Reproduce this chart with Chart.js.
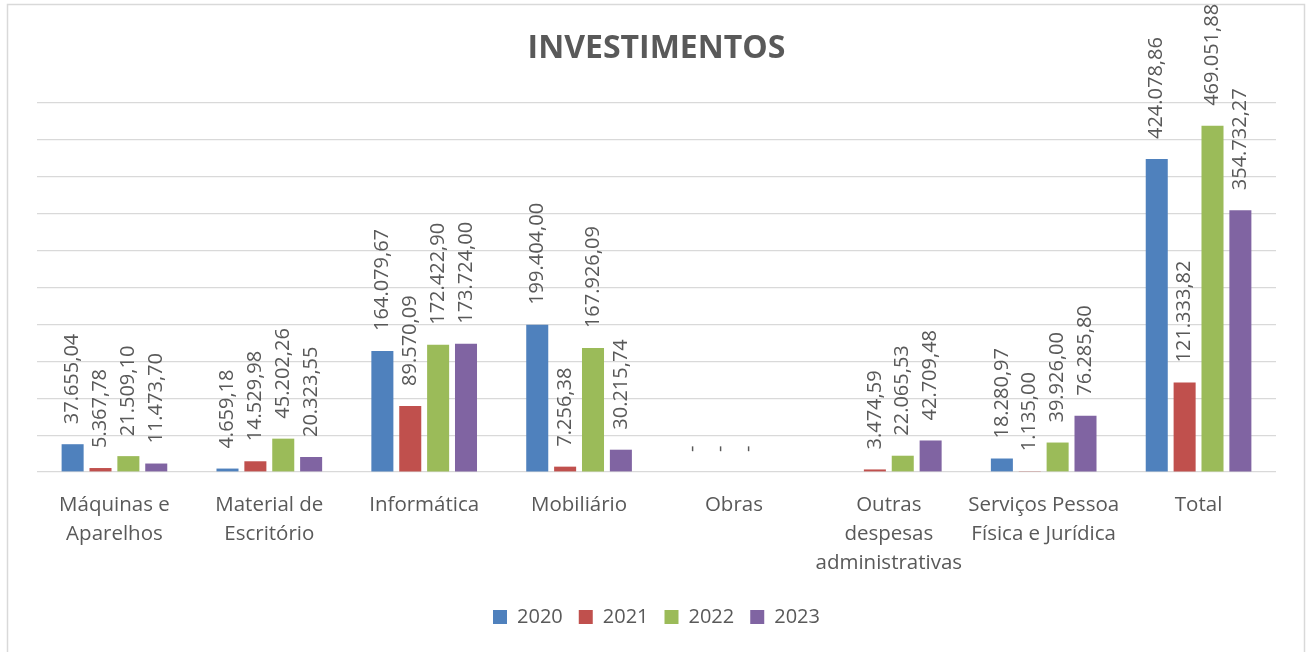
<!DOCTYPE html>
<html>
<head>
<meta charset="utf-8">
<script src="https://cdn.jsdelivr.net/npm/chart.js@4"></script>
<style>
  html, body { margin: 0; padding: 0; background: #fff; }
  #wrap { position: relative; width: 1312px; height: 652px; }
</style>
</head>
<body>
<div id="wrap"><canvas id="chart" width="1312" height="652"></canvas></div>
<script>
const categories = [
  ['Máquinas e', 'Aparelhos'],
  ['Material de', 'Escritório'],
  'Informática',
  'Mobiliário',
  'Obras',
  ['Outras', 'despesas', 'administrativas'],
  ['Serviços Pessoa', 'Física e Jurídica'],
  'Total'
];
const years = ['2020', '2021', '2022', '2023'];
const values2020 = [37655.04, 4659.18, 164079.67, 199404.00, 0, null, 18280.97, 424078.86];
const values2021 = [5367.78, 14529.98, 89570.09, 7256.38, 0, 3474.59, 1135.00, 121333.82];
const values2022 = [21509.10, 45202.26, 172422.90, 167926.09, 0, 22065.53, 39926.00, 469051.88];
const values2023 = [11473.70, 20323.55, 173724.00, 30215.74, null, 42709.48, 76285.80, 354732.27];
const colors = ['#4F81BD', '#C0504D', '#9BBB59', '#8064A2'];

const textColor = '#595959';
const fontFamily = '"Open Sans", "Liberation Sans", sans-serif';

// 1234567.8 -> "1.234.567,80", zero shows as "-"
function fmt(v) {
  if (v === 0) return '-';
  const parts = v.toFixed(2).split('.');
  const intPart = parts[0].replace(/\B(?=(\d{3})+(?!\d))/g, '.');
  return intPart + ',' + parts[1];
}

// outer frame around the whole chart
const frame = {
  id: 'frame',
  beforeDraw(chart) {
    const ctx = chart.ctx;
    ctx.save();
    ctx.fillStyle = '#fff';
    ctx.fillRect(0, 0, chart.width, chart.height);
    ctx.strokeStyle = '#d9d9d9';
    ctx.lineWidth = 1.5;
    ctx.strokeRect(7.5, 4.5, 1297, 660);
    ctx.restore();
  }
};

// rotated value labels above each bar
const valueLabels = {
  id: 'valueLabels',
  afterDatasetsDraw(chart) {
    const ctx = chart.ctx;
    ctx.save();
    ctx.font = '20px ' + fontFamily;
    ctx.fillStyle = textColor;
    ctx.textAlign = 'left';
    ctx.textBaseline = 'middle';
    chart.data.datasets.forEach((ds, i) => {
      chart.getDatasetMeta(i).data.forEach((bar, j) => {
        const v = ds.data[j];
        if (v === null || v === undefined) return;
        ctx.save();
        ctx.translate(bar.x, bar.y - 20);
        ctx.rotate(-Math.PI / 2);
        ctx.fillText(fmt(v), 0, 0);
        ctx.restore();
      });
    });
    ctx.restore();
  }
};

const seriesValues = [values2020, values2021, values2022, values2023];

new Chart(document.getElementById('chart'), {
  type: 'bar',
  data: {
    labels: categories,
    datasets: years.map((y, i) => ({
      label: y,
      data: seriesValues[i],
      backgroundColor: colors[i],
      categoryPercentage: 0.72,
      barPercentage: 0.79
    }))
  },
  options: {
    responsive: false,
    animation: false,
    devicePixelRatio: 1,
    layout: { padding: { left: 37, right: 36, top: 0, bottom: 15 } },
    plugins: {
      title: {
        display: true,
        text: 'INVESTIMENTOS',
        color: textColor,
        font: { family: fontFamily, size: 32, weight: 'bold', lineHeight: 1.2 },
        padding: { top: 30, bottom: 34.6 }
      },
      legend: {
        position: 'bottom',
        labels: {
          color: textColor,
          font: { family: fontFamily, size: 20 },
          boxWidth: 14,
          boxHeight: 14,
          padding: 16
        }
      },
      tooltip: { enabled: false }
    },
    scales: {
      x: {
        grid: { display: false, drawTicks: false },
        border: { display: false },
        ticks: {
          color: textColor,
          font: { family: fontFamily, size: 20.5, lineHeight: 1.43 },
          padding: 18,
          maxRotation: 0,
          autoSkip: false
        },
        afterFit(scale) { scale.height = 119; }
      },
      y: {
        min: 0,
        max: 500000,
        ticks: { display: false, stepSize: 50000 },
        grid: { color: '#d9d9d9', lineWidth: 1.2, drawTicks: false },
        border: { display: false },
        afterFit(scale) { scale.width = 0; }
      }
    }
  },
  plugins: [frame, valueLabels]
});
</script>
</body>
</html>
